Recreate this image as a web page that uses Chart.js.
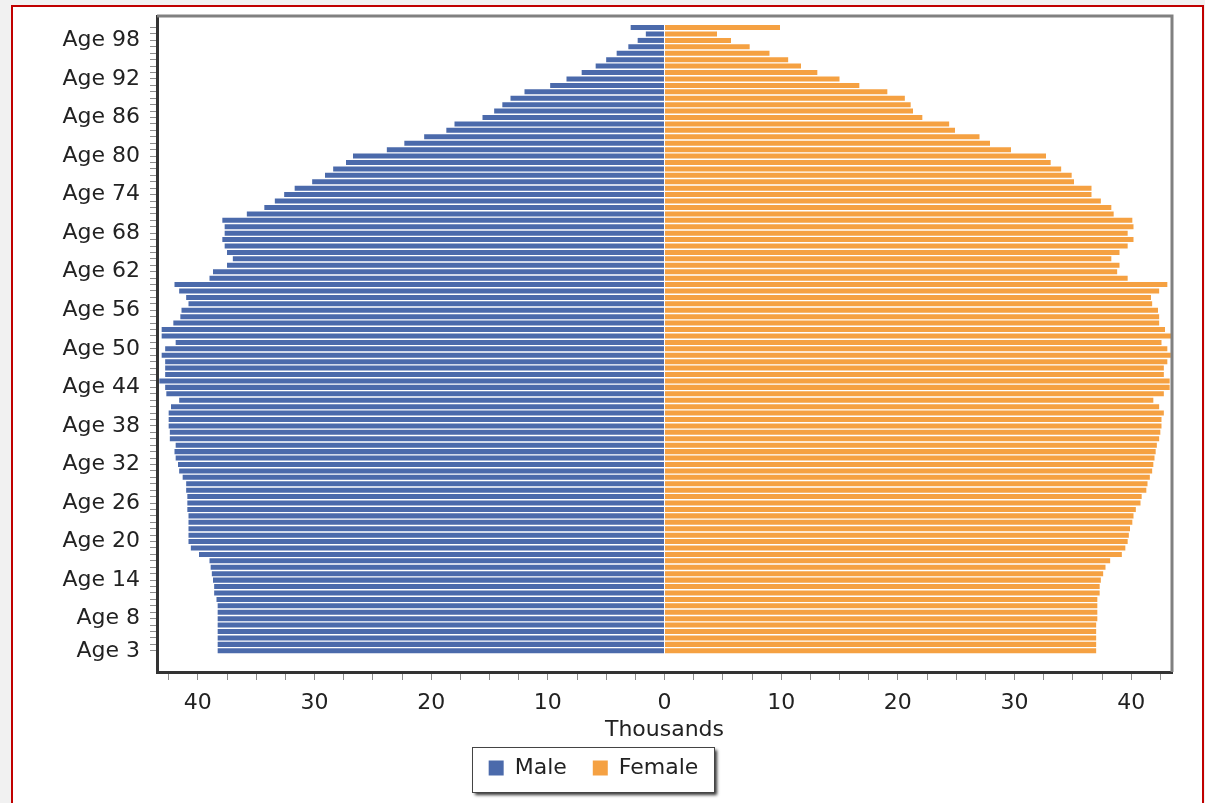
<!DOCTYPE html>
<html>
<head>
<meta charset="utf-8">
<title>Population by age</title>
<script src="https://cdn.jsdelivr.net/npm/chart.js@4.4.1/dist/chart.umd.min.js"></script>
<style>
  html, body { margin: 0; padding: 0; overflow: hidden; background: #f1f1f1; }
  #frame { position: absolute; left: 11px; top: 5px; width: 1189px; height: 900px; border: 2px solid #c00000; background: #fff; }
  #myChart { position: absolute; left: 0; top: 0; }
</style>
</head>
<body>
<div id="frame"></div>
<canvas id="myChart" width="1205" height="803"></canvas>
<script>
  // ages 3 .. 100, thousands of people
  var firstAge = 3;
  var maleValues = [
    38.3, 38.3, 38.3, 38.3, 38.3, 38.3, 38.3, 38.3, 38.4, 38.6,   // 3-12
    38.6, 38.7, 38.8, 38.9, 39.0, 39.9, 40.6, 40.8, 40.8, 40.8,   // 13-22
    40.8, 40.8, 40.9, 40.9, 40.9, 41.0, 41.0, 41.3, 41.6, 41.7,   // 23-32
    41.9, 42.0, 41.9, 42.4, 42.4, 42.5, 42.5, 42.5, 42.3, 41.6,   // 33-42
    42.7, 42.8, 43.3, 42.8, 42.8, 42.8, 43.1, 42.8, 41.9, 43.1,   // 43-52
    43.1, 42.1, 41.5, 41.4, 40.8, 41.0, 41.6, 42.0, 39.0, 38.7,   // 53-62
    37.5, 37.0, 37.5, 37.7, 37.9, 37.7, 37.7, 37.9, 35.8, 34.3,   // 63-72
    33.4, 32.6, 31.7, 30.2, 29.1, 28.4, 27.3, 26.7, 23.8, 22.3,   // 73-82
    20.6, 18.7, 18.0, 15.6, 14.6, 13.9, 13.2, 12.0, 9.8, 8.4,     // 83-92
    7.1, 5.9, 5.0, 4.1, 3.1, 2.3, 1.6, 2.9                        // 93-100
  ];
  var femaleValues = [
    37.0, 37.0, 37.0, 37.0, 37.0, 37.1, 37.1, 37.1, 37.1, 37.3,   // 3-12
    37.3, 37.4, 37.6, 37.8, 38.2, 39.2, 39.5, 39.7, 39.8, 39.9,   // 13-22
    40.1, 40.2, 40.4, 40.8, 40.9, 41.3, 41.4, 41.6, 41.8, 41.9,   // 23-32
    42.0, 42.1, 42.2, 42.4, 42.5, 42.6, 42.6, 42.8, 42.4, 41.9,   // 33-42
    42.8, 43.3, 43.3, 42.8, 42.8, 43.1, 43.4, 43.1, 42.6, 43.5,   // 43-52
    42.9, 42.4, 42.4, 42.3, 41.8, 41.7, 42.4, 43.1, 39.7, 38.8,   // 53-62
    39.0, 38.3, 39.0, 39.7, 40.2, 39.7, 40.2, 40.1, 38.5, 38.3,   // 63-72
    37.4, 36.6, 36.6, 35.1, 34.9, 34.0, 33.1, 32.7, 29.7, 27.9,   // 73-82
    27.0, 24.9, 24.4, 22.1, 21.3, 21.1, 20.6, 19.1, 16.7, 15.0,   // 83-92
    13.1, 11.7, 10.6, 9.0, 7.3, 5.7, 4.5, 9.9                     // 93-100
  ];
  var ages = maleValues.map(function (v, i) { return firstAge + i; });
  var labelAges = [3, 8, 14, 20, 26, 32, 38, 44, 50, 56, 62, 68, 74, 80, 86, 92, 98];

  var font = { family: '"DejaVu Sans", Verdana, sans-serif', size: 22 };
  var textColor = '#222';

  // gray top/right edge of the plot and the shadowed legend box
  var pyramidFrame = {
    id: 'pyramidFrame',
    beforeDraw: function (chart) {
      var boxes = chart.legend.legendHitBoxes;
      if (!boxes || !boxes.length) return;
      var first = boxes[0], last = boxes[boxes.length - 1];
      var left = Math.round(first.left - 17), right = Math.round(last.left + last.width + 16);
      var top = Math.round(first.top - 10), bottom = Math.round(first.top + first.height + 13);
      var ctx = chart.ctx;
      ctx.save();
      ctx.shadowColor = 'rgba(0,0,0,0.8)';
      ctx.shadowOffsetX = 3;
      ctx.shadowOffsetY = 3;
      ctx.shadowBlur = 3;
      ctx.fillStyle = '#fff';
      ctx.fillRect(left, top, right - left, bottom - top);
      ctx.restore();
      ctx.save();
      ctx.strokeStyle = '#444';
      ctx.lineWidth = 1;
      ctx.strokeRect(left + 0.5, top + 0.5, right - left, bottom - top);
      ctx.restore();
    },
    afterDraw: function (chart) {
      var a = chart.chartArea, ctx = chart.ctx;
      ctx.save();
      ctx.strokeStyle = '#808080';
      ctx.lineWidth = 3;
      ctx.beginPath();
      ctx.moveTo(a.left, a.top);
      ctx.lineTo(a.right, a.top);
      ctx.lineTo(a.right, a.bottom);
      ctx.stroke();
      ctx.restore();
    }
  };

  var ctx = document.getElementById('myChart').getContext('2d');
  new Chart(ctx, {
    type: 'bar',
    data: {
      labels: ages,
      datasets: [
        {
          label: 'Male',
          data: maleValues.map(function (v) { return -v; }),
          backgroundColor: '#4b6aab',
          borderWidth: 0,
          categoryPercentage: 1,
          barPercentage: 0.78
        },
        {
          label: 'Female',
          data: femaleValues,
          backgroundColor: '#f5a142',
          borderWidth: 0,
          categoryPercentage: 1,
          barPercentage: 0.78
        }
      ]
    },
    options: {
      indexAxis: 'y',
      responsive: false,
      animation: false,
      layout: { padding: { left: 15, top: 16, right: 33, bottom: 14 } },
      scales: {
        x: {
          type: 'linear',
          min: -43.5,
          max: 43.5,
          stacked: true,
          afterFit: function (axis) { axis.height = 59; },
          border: { color: '#333', width: 3 },
          grid: { drawOnChartArea: false, tickLength: 8, tickColor: '#8c8c8c', tickWidth: 1 },
          ticks: {
            stepSize: 2.5,
            includeBounds: false,
            autoSkip: false,
            maxRotation: 0,
            padding: 10,
            color: textColor,
            font: font,
            callback: function (v) { return v % 10 === 0 ? String(Math.abs(v)) : ''; }
          },
          title: { display: true, text: 'Thousands', color: textColor, font: font, padding: { top: 0, bottom: -12 } }
        },
        y: {
          type: 'linear',
          min: -0.3,
          max: 101.8,
          stacked: true,
          offset: false,
          afterFit: function (axis) {
            axis.width = 142;
            axis.paddingTop = 0;
            axis.paddingBottom = 0;
          },
          afterBuildTicks: function (axis) {
            axis.ticks = ages.map(function (a) { return { value: a }; });
          },
          border: { color: '#333', width: 3 },
          grid: { offset: false, drawOnChartArea: false, tickLength: 7, tickColor: '#8c8c8c', tickWidth: 1 },
          ticks: {
            autoSkip: false,
            padding: 10,
            color: textColor,
            font: font,
            callback: function (v) { return labelAges.indexOf(v) >= 0 ? 'Age ' + v : ''; }
          }
        }
      },
      plugins: {
        legend: {
          position: 'bottom',
          labels: { boxWidth: 15, boxHeight: 15, padding: 26, color: textColor, font: font }
        },
        tooltip: { enabled: false }
      }
    },
    plugins: [pyramidFrame]
  });
</script>
</body>
</html>
